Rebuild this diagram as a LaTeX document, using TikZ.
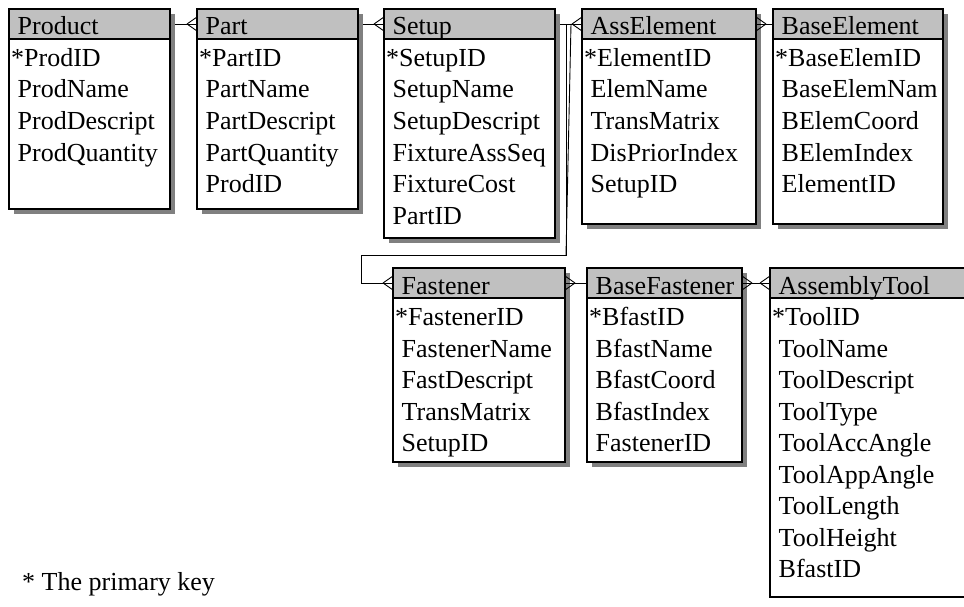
\documentclass[tikz,border=0pt]{standalone}
\usepackage{fontspec}
\setmainfont{Liberation Serif}
\usetikzlibrary{calc}
\definecolor{hdrgray}{HTML}{C0C0C0}
\definecolor{shadowgray}{HTML}{808080}
\newcommand{\tabfont}{\fontsize{26}{31.5}\selectfont}
\tikzset{
  boxline/.style={draw=black, line width=1.6pt},
  body/.style={boxline, fill=white},
  hdr/.style={boxline, fill=hdrgray, inner sep=0pt, outer sep=0pt, anchor=north west},
  lbl/.style={anchor=base west, inner sep=0pt, font=\tabfont},
  conn/.style={draw=black, line width=0.9pt},
}
% name, x1, y1, x2, y2, title, rows, shadow colour
\newcommand{\ertable}[8]{%
  \path[fill=#8] ({#2+5},{#3+5}) rectangle ({#4+5},{#5+5});
  \draw[body] (#2,#3) rectangle (#4,#5);
  \node[hdr, minimum width={(#4-#2)*1pt}, minimum height=30pt] (#1) at (#2,#3) {};
  \node[lbl] (#1-title) at ({#2+2},{#3+26}) {\ #6};
  \foreach \r [count=\i] in {#7} {
    \node[lbl] (#1-\i) at ({#2+2},{#3+26+31.5*\i}) {\r};
  }
}
% crow's foot at the west side of a node (opening towards the node)
\newcommand{\crowW}[1]{%
  \draw[conn] ([xshift=-10pt]#1.west) -- ([yshift=7pt]#1.west)
              ([xshift=-10pt]#1.west) -- ([yshift=-7pt]#1.west);}
% crow's foot at the east side of a node
\newcommand{\crowE}[1]{%
  \draw[conn] ([xshift=10pt]#1.east) -- ([yshift=7pt]#1.east)
              ([xshift=10pt]#1.east) -- ([yshift=-7pt]#1.east);}
\begin{document}
\begin{tikzpicture}[x=1pt, y=-1pt]
\useasboundingbox[fill=white] (0,0) rectangle (964,607);

\ertable{Product}{9}{9}{170}{209}{Product}{*ProdID, \ ProdName, \ ProdDescript, \ ProdQuantity}{shadowgray}
\ertable{Part}{197}{9}{358}{209}{Part}{*PartID, \ PartName, \ PartDescript, \ PartQuantity, \ ProdID}{shadowgray}
\ertable{Setup}{384}{9}{555}{238}{Setup}{*SetupID, \ SetupName, \ SetupDescript, \ FixtureAssSeq, \ FixtureCost, \ PartID}{shadowgray}
\ertable{AssElement}{582}{9}{756}{224}{AssElement}{*ElementID, \ ElemName, \ TransMatrix, \ DisPriorIndex, \ SetupID}{shadowgray}
\ertable{BaseElement}{773}{9}{943}{224}{BaseElement}{*BaseElemID, \ BaseElemNam, \ BElemCoord, \ BElemIndex, \ ElementID}{shadowgray}
\ertable{Fastener}{393}{268}{565}{462}{Fastener}{*FastenerID, \ FastenerName, \ FastDescript, \ TransMatrix, \ SetupID}{shadowgray}
\ertable{BaseFastener}{587}{268}{742}{462}{BaseFastener}{*BfastID, \ BfastName, \ BfastCoord, \ BfastIndex, \ FastenerID}{shadowgray}
\ertable{AssemblyTool}{770}{268}{975}{597}{AssemblyTool}{*ToolID, \ ToolName, \ ToolDescript, \ ToolType, \ ToolAccAngle, \ ToolAppAngle, \ ToolLength, \ ToolHeight, \ BfastID}{none}

% connectors
\draw[conn] ([xshift=5pt]Product.east) -- (Part.west);
\crowW{Part}
\draw[conn] ([xshift=5pt]Part.east) -- (Setup.west);
\crowW{Setup}
\draw[conn] ([xshift=5pt]Setup.east) -- (AssElement.west);
\crowW{AssElement}
\coordinate (tap) at (566,24);
\coordinate (tap2) at (571,24);
\coordinate (tapend) at (566,255);
\coordinate (turn) at (361,255);
\draw[conn] (tap) |- (turn) |- (Fastener.west);
\draw[conn] (tap2) -- (tapend);
\crowW{Fastener}
\draw[conn] (AssElement.east) -- (BaseElement.west);
\crowE{AssElement}
\draw[conn] (Fastener.east) -- (BaseFastener.west);
\crowE{Fastener}
\draw[conn] (BaseFastener.east) -- (AssemblyTool.west);
\crowE{BaseFastener}
\crowW{AssemblyTool}

\node[lbl] (note) at (22,590) {* The primary key};
\end{tikzpicture}
\end{document}
